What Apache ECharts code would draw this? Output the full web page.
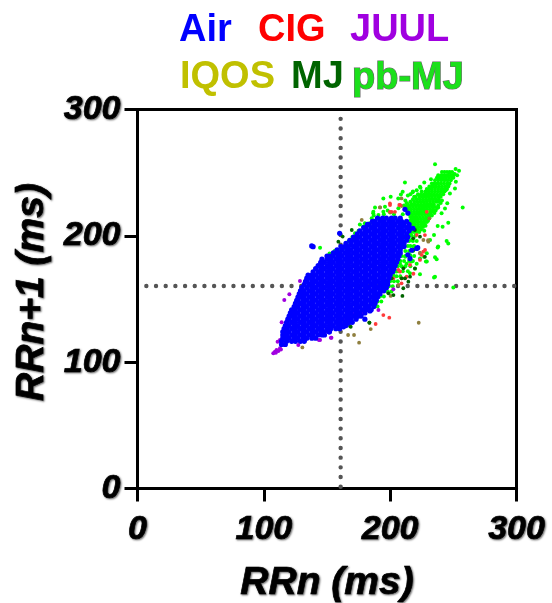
<!DOCTYPE html>
<html><head><meta charset="utf-8">
<style>html,body{margin:0;padding:0;background:#fff}#c{width:552px;height:603px;filter:blur(0.5px)}</style>
<script src="https://cdn.jsdelivr.net/npm/echarts@6/dist/echarts.min.js"></script>
</head><body><div id="c"></div>
<script>
const seriesNames = ['Air','CIG','JUUL','IQOS','MJ','pb-MJ'];
const hRef = [[7,160.3],[300,160.3]];
const vRef = [[160.8,292.6],[160.8,0]];
// Air: dense cloud read row by row: [RRn+1, RRn, RRn, ...]
const airRows = [
[114,114,117],
[116.5,114,118,122,125,129,132],
[119,115,117,120,124,127,131,134,138,141],
[121.5,115,118,122,125,129,132,136,139,143,146,148],
[124,115,117,120,124,127,131,134,138,141,145,148,152],
[126.5,116,118,122,125,129,132,136,139,143,146,150,153,157,160],
[129,117,120,124,127,131,134,138,141,145,148,152,155,159,162,165],
[131.5,118,122,125,129,132,136,139,143,146,150,153,157,160,164,167,170],
[134,119,120,124,127,131,134,138,141,145,148,152,155,159,162,166,169,173],
[136.5,120,122,125,129,132,136,139,143,146,150,153,157,160,164,167,171,174,177],
[139,121,124,127,131,134,138,141,145,148,152,155,159,162,166,169,173,176,180],
[141.5,122,125,129,132,136,139,143,146,150,153,157,160,164,167,171,174,178,181,185],
[144,124,127,131,134,138,141,145,148,152,155,159,162,166,169,173,176,180,183,187],
[146.5,125,129,132,136,139,143,146,150,153,157,160,164,167,171,174,178,181,185,188],
[149,126,127,131,134,138,141,145,148,152,155,159,162,166,169,173,176,180,183,187,189],
[151.5,127,129,132,136,139,143,146,150,153,157,160,164,167,171,174,178,181,185,188,190],
[154,128,131,134,138,141,145,148,152,155,159,162,166,169,173,176,180,183,187,190,192],
[156.5,129,132,136,139,143,146,150,153,157,160,164,167,171,174,178,181,185,188,192,195],
[159,130,134,138,141,145,148,152,155,159,162,166,169,173,176,180,183,187,190,194,197],
[161.5,132,136,139,143,146,150,153,157,160,164,167,171,174,178,181,185,188,192,195,198],
[164,133,134,138,141,145,148,152,155,159,162,166,169,173,176,180,183,187,190,194,197,198],
[166.5,134,136,139,143,146,150,153,157,160,164,167,171,174,178,181,185,188,192,195,199],
[169,135,138,141,145,148,152,155,159,162,166,169,173,176,180,183,187,190,194,197,200],
[171.5,139,143,146,150,153,157,160,164,167,171,174,178,181,185,188,192,195,199,202],
[174,141,145,148,152,155,159,162,166,169,173,176,180,183,187,190,194,197,201,203],
[176.5,143,146,150,153,157,160,164,167,171,174,178,181,185,188,192,195,199,202,204],
[179,145,148,152,155,159,162,166,169,173,176,180,183,187,190,194,197,201,204,205],
[181.5,146,150,153,157,160,164,167,171,174,178,181,185,188,192,195,199,202,206],
[184,150,152,155,159,162,166,169,173,176,180,183,187,190,194,197,201,204,207],
[186.5,155,157,160,164,167,171,174,178,181,185,188,192,195,199,202,206,208],
[189,158,162,166,169,173,176,180,183,187,190,194,197,201,204,208],
[191.5,161,164,167,171,174,178,181,185,188,192,195,199,202,206,209,211],
[194,165,169,173,176,180,183,187,190,194,197,201,204,208,211],
[196.5,168,171,174,178,181,185,188,192,195,199,202,206,209,213],
[199,171,173,176,180,183,187,190,194,197,201,204,208,211,214],
[201.5,174,178,181,185,188,192,195,199,202,206,209,213],
[204,176,180,183,187,190,194,197,201,204,208,211,215],
[206.5,179,181,185,188,192,195,199,202,206,209,213,215],
[209,182,183,187,190,194,197,201,204,208,211,215],
[211.5,186,188,192,195,199,202,206,209,213],
[214,190,194,197,201,204,208]
];
const airOutliers = [[137.9,192],[139,191.4],[160,202],[180,134],[175,136.5],[167,131],[163,128],[151.6,124],[184,140.5],
[221.8,190.6],[215.7,182],[214,218],[211.7,221],[218,206],[221,190],[214,185],[217,188.6]];
// pb-MJ: dense upper-right cloud, same row layout
const pbRows = [
[250.5,241,243,245,247,249],
[248,238,240.5,243,245.5,248,250],
[246,237,239,241.5,244,246.5,249],
[244,235.5,238,240.5,243,245.5,248],
[241.5,233,235,237.5,240,242.5,245,247],
[239,231,233.5,236,238.5,241,243.5,246],
[237,229,231,233,235.5,238,240.5,243,245],
[235,225,228,230.5,233,235.5,238,240.5,243],
[233,222,224.5,227,229.5,232,234.5,237,239.5,242],
[231,220,223,225.5,228,230.5,233,235.5,238,240],
[229,218,221,223.5,226,228.5,231,233.5,236,238.5],
[227,216,219,221.5,224,226.5,229,231.5,234,236.5,238],
[225,214,217,219.5,222,224.5,227,229.5,232,234.5],
[223,213,215.5,218,220.5,223,225.5,228,230.5,233,235],
[221,214,216.5,219,221.5,224,226.5,229,231.5,234],
[219,214,216.5,219,221.5,224,226.5,229,232],
[217,215,217.5,220,222.5,225,227.5,230,232],
[215,216,218.5,221,223.5,226,228.5,231],
[213,217,219.5,222,224.5,227,229],
[211,217,219,221.5,224,226.5,229],
[209,217,219.5,222,224.5,227],
[207,217,219,221.5,224,226],
[205,217,219.5,222,224.5],
[203,217,219,221,223]
];
const pbWiden = [[212,228],[213,226],[211,224],[212,222],[213,220],[214,232],[216,233],[218,235],[221,236],[224,238],[219,231],
[241,228],[240,226],[238,224],[237,222],[236,220],[235,218],[233,216],[231,214],[230,212],[228,208],[227,204],[244,236],[246,240],[250,246],[251,249]];
const pbFringe = [[216,212],[218,212],[217,208],[219,208],[216,204],[219,204],[215,200],[217,200],[220,200],[215,196],[218,196],[221,196],
[214,192],[216,192],[219,192],[212,188],[215,188],[218,188],[209,184],[212,184],[216,184],[219,184],[208,180],[211,180],[215,180],[218,180],
[206,176],[209,176],[212,176],[216,176],[204,172],[207,172],[210,172],[214,172],[202,168],[205,168],[208,168],[200,164],[203,164],[206,164],
[199,160],[202,160],[198,156],[201,156],[192,152],[195,152],[190,148],[193,148],[188,144],[190,144],
[170,199],[175,204],[180,210],[187,216],[195,217],[203,217],[210,217],[156,188],[152,186],[176,209],[198,220]];
const pbOutliers = [[235.5,256.6],[251.8,252.9],[254.5,251.5],[253,248],[247,250],[211.7,242.3],[227,242.3],[223.6,238.9],[232.3,244.7],
[217.8,234.4],[208.5,232.8],[200.4,231],[194.6,229.6],[209.9,234.9],[206.4,229.6],[257.4,222.5],[251.3,237.5],[252,242.8],[247.3,233.6],
[245.2,225.7],[243.4,221.7],[240.7,217.8],[238,222.5],[246,210.4],[241.5,207.2],[237.6,207.7],[234.7,200.6],[244.7,195.9],[246,194],
[237.6,190.8],[234,219],[188,222.5],[195.9,223],[186.6,217.8],[235.5,183],[236.8,181.4],[223.6,169.5],[234.7,167],[250,159.2],[228.3,179.6],
[226.8,183.5],[229,179.6],[221,178],[217,179.6],[213,178],[215.7,184.8],[211.8,183.5],[207.8,178],[205,171.7],[202.5,169],[198.6,167.7],
[200,171.7],[194.6,162.4],[192,157],[188,152],[184,149],[180,144.5],[229,186.2],[231.6,196.7],[238,191.5],[235.5,167.7],[219.7,174],
[215.7,170.3],[223.6,182],[218.4,191.5],[217,196.7],[215.7,202],[221,206],[219.7,212.6],[226.3,210],[186.7,219],[185.4,213.9],[199.9,218.4],
[206.5,221.8],[194.6,219],[178.8,207.3],[172.2,202],[166.9,195.4],[163,190],[159,188.8],[184,210],[190.7,216.5],[213,221.8],[144.5,190.6],[146,178]];
const cigPoints = [[168.2,196.7],[178.8,202],[186.7,210],[199.9,224.4],[207.8,224.4],[201.2,219],[221,200.7],[227.6,188.8],[225,184.9],[215.7,177],
[218.4,170],[211.8,166.4],[206.5,173],[209,162.4],[202.5,166.4],[194.6,137.3],[199.3,135.2],[188.5,130.2],[226.2,187.5],[223.6,180.9],[209,166.4],
[207.8,171.7],[213,167.7],[207.2,224.4],[199.8,225.7],[203.8,219],[199.8,219],[188,209.3],[227.5,200.6],[228.9,219],[129.1,157.1]];
const iqosPoints = [[222.6,131.2],[184.6,126.2],[166.7,121.5],[171.4,121.5],[175.4,115.4],[191.9,222.5],[230,196.6],[223.6,186],[231,213.8],[209,229.6],
[177.5,212.6],[192,222.6],[230.2,195.4],[226.3,196.7],[209,223.6],[206.5,161.1],[200.4,152.4],[223.6,186.7],[130.5,111.7],[161,132]];
const mjPoints = [[168.8,128],[172.7,134.1],[183.6,131.2],[209.7,152.4],[202.6,153.1],[198.6,154.5],[210.4,158.5],[219.6,174.3],[215.7,167.7],[211.7,166.4],
[169.6,204.6],[159,195.4],[162.4,199.4],[218.4,188.8],[210.5,174.3],[201.2,166.4],[214.4,163.7],[209.1,166.4],[168.2,128.6],[183.5,131.3],
[219.6,204.6],[223.6,199.3],[218.3,198],[227.5,183.4]];
const juulPoints = [[107.5,107],[110.1,109.6],[112.8,111],[115.4,113.6],[108.8,108.3],[111.5,108.8],[109.5,107.5],[113.5,110],[116.7,125.5],[114.1,131.5],
[116.2,149.2],[120.2,153.7],[128.6,164.3],[139,165],[110.9,116.2],[116.7,114.9],[127.3,113.6],[132.6,117.6],[143.6,117.6],[153.1,119.4],[145.2,122.8],
[190.7,141.3],[153.5,119.4],[144.5,117.5],[145.3,122.8],[202.5,157.7],[172.2,138.7],[178.7,138.7],[164.2,134.7],[112.8,117.5],[115.4,121.5]];

const FONT = 'Liberation Sans';
const rowsToPoints = rows => rows.flatMap(([y, ...xs]) => xs.map(x => [x, y]));
const tickStyle = {fontFamily:FONT,fontWeight:'bold',fontStyle:'italic',fontSize:34,color:'#000',
  textBorderColor:'#000',textBorderWidth:0.7,
  textShadowColor:'rgba(0,0,0,0.55)',textShadowBlur:2,textShadowOffsetX:1,textShadowOffsetY:1};
const titleStyle = {...tickStyle,fontSize:39};
const scatter = (name,data,color,size,z) => ({type:'scatter',name,data,symbolSize:size,z,silent:true,
  itemStyle:{color,opacity:1},emphasis:{disabled:true}});
const refLine = (data) => ({type:'line',data,showSymbol:false,silent:true,z:1,
  lineStyle:{color:'#555',width:4.4,cap:'round',type:[0.01,9.67]}});
const legendLayout = [
 {name:'Air',left:174,top:12,color:'#0000ff'},
 {name:'CIG',left:253,top:12,color:'#ff0000'},
 {name:'JUUL',left:345,top:12,color:'#a000e0'},
 {name:'IQOS',left:175,top:59,color:'#c0c000'},
 {name:'MJ',left:286,top:59,color:'#006400'},
 {name:'pb-MJ',left:347,top:59,color:'#1be01b',border:'#666'}
];
const axis = (extra) => ({type:'value',min:0,max:300,interval:100,splitLine:{show:false},
  axisLine:{onZero:false,lineStyle:{color:'#000',width:3}},
  axisTick:{length:13,lineStyle:{color:'#000',width:3}},
  nameLocation:'middle',nameTextStyle:titleStyle,...extra});
const chart = echarts.init(document.getElementById('c'),null,{renderer:'canvas'});
chart.setOption({
 animation:false,backgroundColor:'#fff',
 grid:{left:137.5,top:109.5,width:379,height:379,show:true,outerBoundsMode:'none',borderColor:'#000',borderWidth:3,backgroundColor:'#fff'},
 legend:legendLayout.map(l=>({data:[l.name],left:l.left,top:l.top,icon:'none',itemWidth:0,itemHeight:0,selectedMode:false,padding:0,
   textStyle:{fontFamily:FONT,fontWeight:'bold',fontSize:38,color:l.color,
     textBorderColor:l.border||'transparent',textBorderWidth:l.border?1.2:0}})),
 xAxis:axis({name:'RRn (ms)',nameGap:75,axisLabel:{...tickStyle,margin:24}}),
 yAxis:axis({name:'RRn+1 (ms)',nameGap:86,nameTextStyle:{...titleStyle,padding:[0,0,0,14]},axisLabel:{...tickStyle,margin:17}}),
 series:[
  refLine(hRef),refLine(vRef),
  scatter(seriesNames[5],rowsToPoints(pbRows).concat(pbWiden,pbFringe,pbOutliers),'#00ff00',4,3),
  scatter(seriesNames[3],iqosPoints,'#8f7f3f',3.8,4),
  scatter(seriesNames[1],cigPoints,'#ff3b3b',3.8,4),
  scatter(seriesNames[4],mjPoints,'#006400',3.8,5),
  scatter(seriesNames[2],juulPoints,'#a000e0',4,5),
  scatter(seriesNames[0],rowsToPoints(airRows).concat(airOutliers),'#0000ff',5.2,6)
 ]
});
</script></body></html>
